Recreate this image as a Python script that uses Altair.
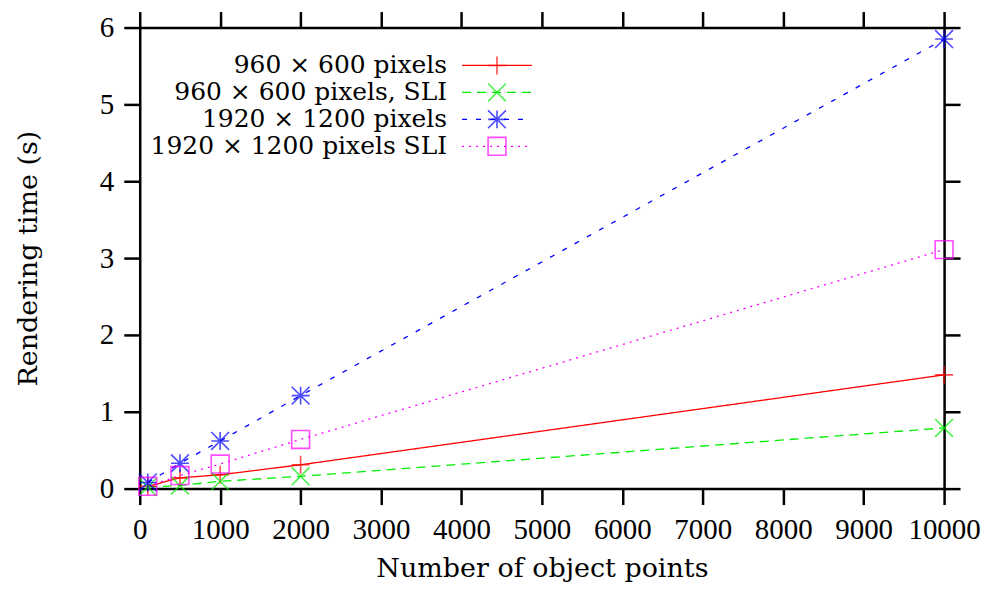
import altair as alt
import pandas as pd

# ---- data ----
object_points = [100, 500, 1000, 2000, 10000]
series_names = [
    "960 × 600 pixels",
    "960 × 600 pixels, SLI",
    "1920 × 1200 pixels",
    "1920 × 1200 pixels SLI",
]
t_960 = [0.03, 0.14, 0.18, 0.31, 1.48]
t_960_sli = [0.02, 0.04, 0.095, 0.16, 0.79]
t_1920 = [0.08, 0.33, 0.62, 1.21, 5.85]
t_1920_sli = [0.03, 0.17, 0.32, 0.64, 3.11]
x_ticks = [0, 1000, 2000, 3000, 4000, 5000, 6000, 7000, 8000, 9000, 10000]
y_ticks = [0, 1, 2, 3, 4, 5, 6]

# ---- styles ----
colors = ["#ff0000", "#00ee00", "#0000ff", "#ff00ff"]
dashes = [[1, 0], [9, 6], [5, 9], [2, 5]]
shapes = [
    "M-1,0L1,0M0,-1L0,1",
    "M-1,-1L1,1M-1,1L1,-1",
    "M-1,0L1,0M0,-1L0,1M-1,-1L1,1M-1,1L1,-1",
    "square",
]
TXT_FONT = "DejaVu Serif"
NUM_FONT = "Liberation Serif"

rows = []
for name, vals in zip(series_names, [t_960, t_960_sli, t_1920, t_1920_sli]):
    for x, y in zip(object_points, vals):
        rows.append({"series": name, "x": x, "y": y})
df = pd.DataFrame(rows)

leg = pd.DataFrame({"series": series_names,
                    "ly": [38 + 27 * i for i in range(len(series_names))]})

color_s = alt.Scale(domain=series_names, range=colors)
dash_s = alt.Scale(domain=series_names, range=dashes)
shape_s = alt.Scale(domain=series_names, range=shapes)

xs = alt.Scale(domain=[0, 10000], nice=False, zero=False)
ys = alt.Scale(domain=[0, 6], nice=False)

base = alt.Chart(df)

lines = base.mark_line(strokeWidth=1.3).encode(
    x=alt.X("x:Q", scale=xs,
            axis=alt.Axis(values=x_ticks, title="Number of object points",
                          labelPadding=11, titlePadding=11, format="d",
                          labelOverlap=False, labelFlush=False,
                          labelFont=NUM_FONT, labelFontSize=29,
                          titleFont=TXT_FONT, titleFontSize=27)),
    y=alt.Y("y:Q", scale=ys,
            axis=alt.Axis(values=y_ticks, title="Rendering time (s)",
                          labelPadding=10, titlePadding=57,
                          labelFlush=False, labelOverlap=False,
                          labelFont=NUM_FONT, labelFontSize=29,
                          titleFont=TXT_FONT, titleFontSize=27)),
    color=alt.Color("series:N", scale=color_s, legend=None),
    strokeDash=alt.StrokeDash("series:N", scale=dash_s, legend=None),
    detail="series:N",
)

points = base.mark_point(filled=False, strokeWidth=1.6, size=320).encode(
    x=alt.X("x:Q", scale=xs, axis=alt.Axis(orient="top", values=x_ticks,
                                          labels=False, title=None)),
    y=alt.Y("y:Q", scale=ys, axis=alt.Axis(orient="right", values=y_ticks,
                                          labels=False, title=None)),
    color=alt.Color("series:N", scale=color_s, legend=None),
    shape=alt.Shape("series:N", scale=shape_s, legend=None),
)

lbase = alt.Chart(leg)
leg_text = lbase.mark_text(align="right", baseline="middle", font=TXT_FONT,
                           fontSize=25, color="black").encode(
    x=alt.value(308), y=alt.Y("ly:Q", scale=None), text="series:N")
leg_rule = lbase.mark_rule(strokeWidth=1.3).encode(
    x=alt.value(323), x2=alt.value(393), y=alt.Y("ly:Q", scale=None),
    color=alt.Color("series:N", scale=color_s, legend=None),
    strokeDash=alt.StrokeDash("series:N", scale=dash_s, legend=None))
leg_pt = lbase.mark_point(filled=False, strokeWidth=1.6, size=320).encode(
    x=alt.value(358), y=alt.Y("ly:Q", scale=None),
    color=alt.Color("series:N", scale=color_s, legend=None),
    shape=alt.Shape("series:N", scale=shape_s, legend=None))

chart = alt.layer(lines, points, leg_text, leg_rule, leg_pt).resolve_axis(
    x="independent", y="independent"
).properties(
    width=806, height=462,
    autosize=alt.AutoSizeParams(type="none"),
    padding={"left": 132, "top": 19, "right": 40, "bottom": 95},
).configure_view(stroke=None).configure_axis(
    grid=False, domainColor="black", domainWidth=2.5, tickColor="black",
    tickWidth=2.5, tickSize=16, labelColor="black",
    titleFontWeight="normal", titleColor="black",
)

chart.save("out.html", embed_options={"renderer": "svg", "actions": False})
